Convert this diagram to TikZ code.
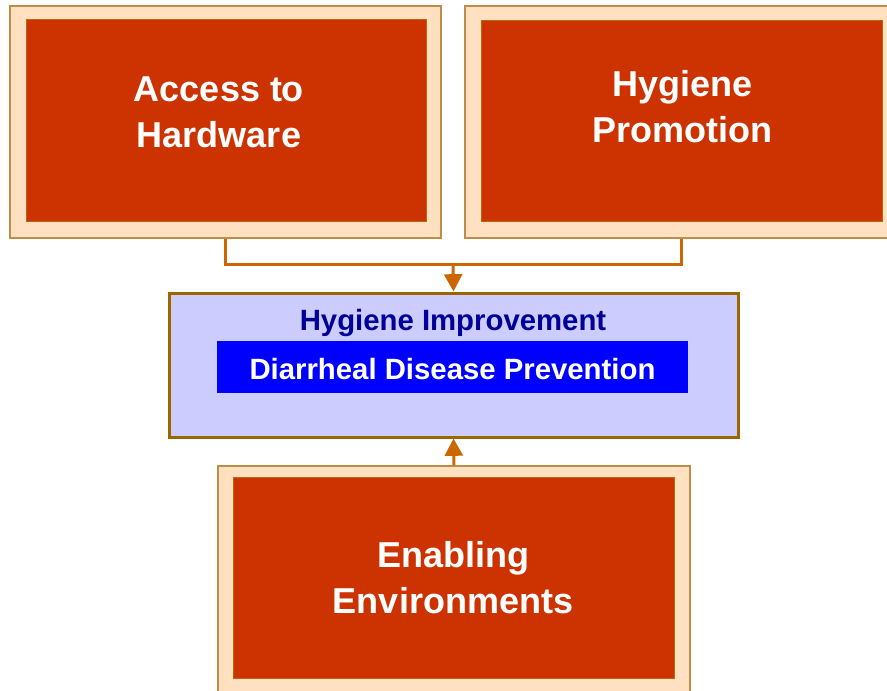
\documentclass[tikz,border=0pt]{standalone}
\usepackage{fontspec}
\setmainfont{Liberation Sans}
\usetikzlibrary{arrows.meta}
\definecolor{brick}{HTML}{CC3300}
\definecolor{peach}{HTML}{FFE0C0}
\definecolor{peachline}{HTML}{BE8E48}
\definecolor{brickline}{HTML}{B8680A}
\definecolor{lilac}{HTML}{CCCCFF}
\definecolor{umber}{HTML}{996600}
\definecolor{navy}{HTML}{000099}
\definecolor{pure}{HTML}{0000FF}
\definecolor{rust}{HTML}{CC6600}
\tikzset{
	peachbox/.style={draw=peachline, fill=peach, line width=1.1pt, inner sep=0pt},
	brickbox/.style={draw=brickline, fill=brick, line width=0.75pt, inner sep=0pt},
	bigtext/.style={text=white, font=\fontsize{27}{34.2}\selectfont\bfseries, align=center, inner sep=0pt},
	conn/.style={draw=rust, line width=2.25pt},
	tip/.style={-{Triangle[width=13.5pt, length=13pt]}}
}

\begin{document}
\begin{tikzpicture}[x=0.75pt, y=-0.75pt]
			%%%%% START %%%%%
			
			\useasboundingbox (0, 0) rectangle (887, 691);
			
			\node[peachbox, minimum width=323.25pt, minimum height=174pt] (accessbg) at (225.5, 122) {};
			\node[brickbox, minimum width=300pt, minimum height=151.5pt] (access) at (226, 121) {};
			\node[bigtext] (accesstext) at (219, 112) {Access to\\Hardware};
			
			\node[peachbox, minimum width=324.75pt, minimum height=174pt] (promobg) at (681.5, 122) {};
			\node[brickbox, minimum width=300.75pt, minimum height=150.75pt] (promo) at (681.5, 121.5) {};
			\node[bigtext] (promotext) at (682.5, 106.5) {Hygiene\\Promotion};
			
			\node[draw=umber, fill=lilac, line width=2.25pt, minimum width=426.75pt, minimum height=108pt] (improve) at (453.5, 365) {};
			\node[fill=pure, inner sep=0pt, minimum width=353.25pt, minimum height=39pt] (prevent) at (452.5, 367) {};
			\node[anchor=base, text=navy, font=\fontsize{22}{26}\selectfont\bfseries, inner sep=0pt] (improvetext) at (453, 330) {Hygiene Improvement};
			\node[anchor=base, text=white, font=\fontsize{22}{26}\selectfont\bfseries, inner sep=0pt] (preventtext) at (452.5, 379.5) {Diarrheal Disease Prevention};
			
			\node[peachbox, minimum width=354pt, minimum height=170.25pt] (enablebg) at (454, 579.5) {};
			\node[brickbox, minimum width=330.75pt, minimum height=150.75pt] (enable) at (453.5, 577.5) {};
			\node[bigtext] (enabletext) at (453, 577.5) {Enabling\\Environments};
			
			% connectors
			\coordinate (join) at (453, 265);
			\draw[conn] (accessbg.south) |- (join) -| (promobg.south);
			\draw[conn, tip] (join) -- (improve.north);
			\draw[conn, tip] (enablebg.north) -- (improve.south);
			
			%%%%% END %%%%%
		\end{tikzpicture}
\end{document}
